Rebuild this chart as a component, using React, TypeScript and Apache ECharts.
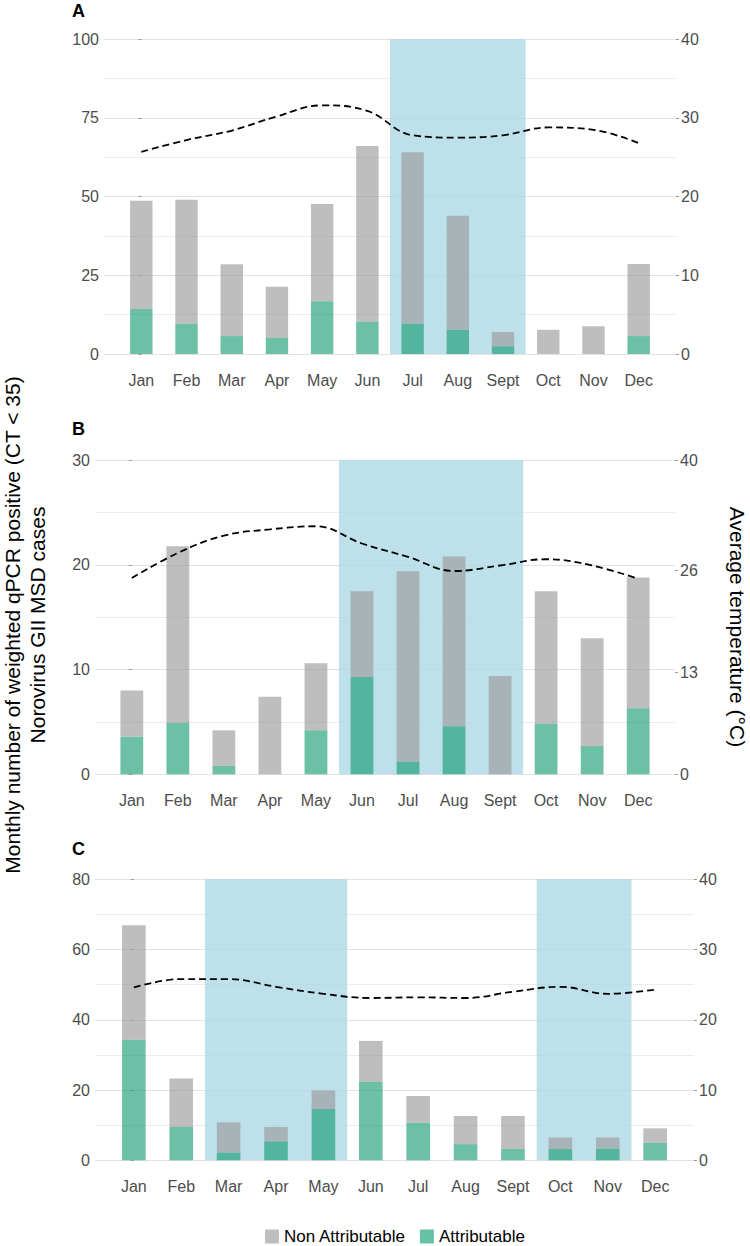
import React, { useEffect, useRef } from "react";
import * as echarts from "echarts";

const months = ["Jan", "Feb", "Mar", "Apr", "May", "Jun", "Jul", "Aug", "Sept", "Oct", "Nov", "Dec"];

// Panel A
const attribA = [14.4, 9.6, 5.7, 5.1, 16.8, 10.2, 9.6, 7.7, 2.5, 0, 0, 5.7];
const nonAttribA = [34.3, 39.4, 22.8, 16.3, 30.9, 55.9, 54.5, 36.2, 4.5, 7.7, 8.8, 22.9];
const tempA = [25.7, 27.2, 28.4, 30.2, 31.6, 30.9, 27.8, 27.5, 27.8, 28.8, 28.5, 26.8];
const shadeA = [[5.5, 8.5]];

// Panel B
const attribB = [3.6, 4.9, 0.8, 0, 4.2, 9.3, 1.2, 4.6, 0, 4.8, 2.7, 6.3];
const nonAttribB = [4.4, 16.9, 3.4, 7.4, 6.4, 8.2, 18.2, 16.2, 9.4, 12.7, 10.3, 12.5];
const tempB = [25.0, 28.2, 30.4, 31.2, 31.6, 29.4, 27.7, 25.9, 26.6, 27.4, 26.6, 24.9];
const shadeB = [[4.5, 8.5]];

// Panel C
const attribC = [34.3, 9.5, 2.2, 5.4, 14.6, 22.3, 10.7, 4.6, 3.3, 3.2, 3.3, 5.0];
const nonAttribC = [32.6, 13.8, 8.6, 4.1, 5.3, 11.7, 7.6, 8.0, 9.3, 3.3, 3.2, 4.1];
const tempC = [24.6, 25.8, 25.8, 24.7, 23.7, 23.1, 23.2, 23.1, 24.0, 24.7, 23.7, 24.3];
const shadeC = [[1.5, 4.5], [8.5, 10.5]];

// axis ticks
const leftMaxA = 100, leftStepA = 25;
const leftMaxB = 30, leftStepB = 10;
const leftMaxC = 80, leftStepC = 20;
const rightTicksA = [0, 10, 20, 30, 40];
const rightTicksB = [0, 13, 26, 40];
const rightTicksC = [0, 10, 20, 30, 40];

const FONT = "'Liberation Sans', Arial, Helvetica, sans-serif";
const TICK_COLOR = "#4d4d4d";

const panels = [
  { label: "A", attrib: attribA, non: nonAttribA, temp: tempA, shade: shadeA, leftMax: leftMaxA, leftStep: leftStepA, rightTicks: rightTicksA,
    grid: { left: 104, top: 39.3, width: 572, height: 314.7 }, pad: 0.825, barWidth: 22.4, labelY: 17 },
  { label: "B", attrib: attribB, non: nonAttribB, temp: tempB, shade: shadeB, leftMax: leftMaxB, leftStep: leftStepB, rightTicks: rightTicksB,
    grid: { left: 95, top: 460.3, width: 580, height: 314 }, pad: 0.8, barWidth: 22.8, labelY: 435 },
  { label: "C", attrib: attribC, non: nonAttribC, temp: tempC, shade: shadeC, leftMax: leftMaxC, leftStep: leftStepC, rightTicks: rightTicksC,
    grid: { left: 95, top: 879.3, width: 599, height: 281 }, pad: 0.82, barWidth: 23.6, labelY: 855 },
];

function buildOption() {
  const grid: any[] = [];
  const xAxis: any[] = [];
  const yAxis: any[] = [];
  const series: any[] = [];
  const graphic: any[] = [];

  panels.forEach((p, i) => {
    const band = p.grid.width / (11 + 2 * p.pad);
    const outerG = i * 2;
    const innerG = i * 2 + 1;
    // outer grid: full panel area (gridlines, y axes, shading, temperature)
    grid.push({ ...p.grid });
    // inner grid: exactly the 12 month bands (bars, month labels)
    grid.push({
      left: p.grid.left + (p.pad - 0.5) * band,
      top: p.grid.top,
      width: 12 * band,
      height: p.grid.height,
    });

    // outer x (value, hidden)
    xAxis.push({
      type: "value",
      gridIndex: outerG,
      min: -p.pad,
      max: 11 + p.pad,
      show: false,
      splitLine: { show: false },
    });
    // inner x (category, month labels)
    xAxis.push({
      type: "category",
      gridIndex: innerG,
      data: months,
      axisLine: { show: false },
      axisTick: { show: false },
      splitLine: { show: false },
      axisLabel: { color: TICK_COLOR, fontSize: 16, fontFamily: FONT, margin: 18, interval: 0 },
    });

    const yOuterL = yAxis.length;
    yAxis.push({
      type: "value",
      gridIndex: outerG,
      min: 0,
      max: p.leftMax,
      interval: p.leftStep,
      position: "left",
      axisLine: { show: false },
      axisTick: { show: true, length: 3, lineStyle: { color: "#999" } },
      axisLabel: { color: TICK_COLOR, fontSize: 16, fontFamily: FONT, margin: 5 },
      splitLine: { show: true, lineStyle: { color: "#e2e2e2", width: 1 } },
      minorTick: { show: false, splitNumber: 2 },
      minorSplitLine: { show: true, lineStyle: { color: "#ececec", width: 1 } },
    });
    const yOuterR = yAxis.length;
    yAxis.push({
      type: "value",
      gridIndex: outerG,
      min: 0,
      max: 40,
      position: "right",
      axisLine: { show: false },
      axisTick: { show: true, length: 3, lineStyle: { color: "#999" }, customValues: p.rightTicks },
      axisLabel: { color: TICK_COLOR, fontSize: 16, fontFamily: FONT, margin: 5, customValues: p.rightTicks },
      splitLine: { show: false },
    });
    const yInner = yAxis.length;
    yAxis.push({
      type: "value",
      gridIndex: innerG,
      min: 0,
      max: p.leftMax,
      show: false,
      splitLine: { show: false },
    });

    series.push({
      type: "line",
      name: "shade" + p.label,
      xAxisIndex: outerG,
      yAxisIndex: yOuterL,
      data: [],
      z: 1,
      silent: true,
      markArea: {
        silent: true,
        itemStyle: { color: "rgba(173,216,230,0.8)" },
        data: p.shade.map((s) => [{ xAxis: s[0] }, { xAxis: s[1] }]),
      },
    });
    series.push({
      type: "bar",
      name: "Attributable",
      xAxisIndex: innerG,
      yAxisIndex: yInner,
      stack: "st" + p.label,
      barWidth: p.barWidth,
      z: 2,
      itemStyle: { color: "#1b9e77", opacity: 0.65 },
      data: p.attrib,
    });
    series.push({
      type: "bar",
      name: "Non Attributable",
      xAxisIndex: innerG,
      yAxisIndex: yInner,
      stack: "st" + p.label,
      barWidth: p.barWidth,
      z: 2,
      itemStyle: { color: "#9b9b9b", opacity: 0.65 },
      data: p.non,
    });
    series.push({
      type: "line",
      name: "temp" + p.label,
      xAxisIndex: outerG,
      yAxisIndex: yOuterR,
      z: 3,
      smooth: 0.4,
      symbol: "none",
      lineStyle: { color: "#000", width: 1.8, type: [7, 4] },
      data: p.temp.map((v, k) => [k, v]),
    });

    graphic.push({
      type: "text",
      left: 72,
      top: p.labelY - 15,
      style: { text: p.label, fontSize: 18, fontWeight: "bold", fontFamily: FONT, fill: "#000" },
    });
  });

  graphic.push({
    type: "text",
    x: 24.5,
    y: 625,
    rotation: Math.PI / 2,
    style: {
      text: "Monthly number of weighted qPCR positive (CT < 35)\nNorovirus GII MSD cases",
      fontSize: 21,
      lineHeight: 25,
      fontFamily: FONT,
      fill: "#000",
      align: "center",
      verticalAlign: "middle",
    },
  });
  graphic.push({
    type: "text",
    x: 737.5,
    y: 627,
    rotation: -Math.PI / 2,
    style: {
      text: "Average temperature (°C)",
      fontSize: 21,
      fontFamily: FONT,
      fill: "#000",
      align: "center",
      verticalAlign: "middle",
    },
  });

  return {
    animation: false,
    backgroundColor: "#fff",
    grid,
    xAxis,
    yAxis,
    series,
    graphic,
    legend: {
      left: 265,
      top: 1228,
      padding: 0,
      itemWidth: 14,
      itemHeight: 14,
      itemGap: 14,
      icon: "rect",
      textStyle: { fontSize: 17, fontFamily: FONT, color: "#000" },
      data: [
        { name: "Non Attributable", itemStyle: { color: "#bebebe", opacity: 1 } },
        { name: "Attributable", itemStyle: { color: "#66c2a5", opacity: 1 } },
      ],
      selectedMode: false,
    },
  };
}

export default function App() {
  const ref = useRef<HTMLDivElement>(null);
  useEffect(() => {
    if (!ref.current) return;
    const chart = echarts.init(ref.current, undefined, { renderer: "svg" });
    chart.setOption(buildOption() as any);
    return () => chart.dispose();
  }, []);
  return (
    <div
      ref={ref}
      style={{ position: "absolute", left: 0, top: 0, width: 750, height: 1246, background: "#fff" }}
    />
  );
}
